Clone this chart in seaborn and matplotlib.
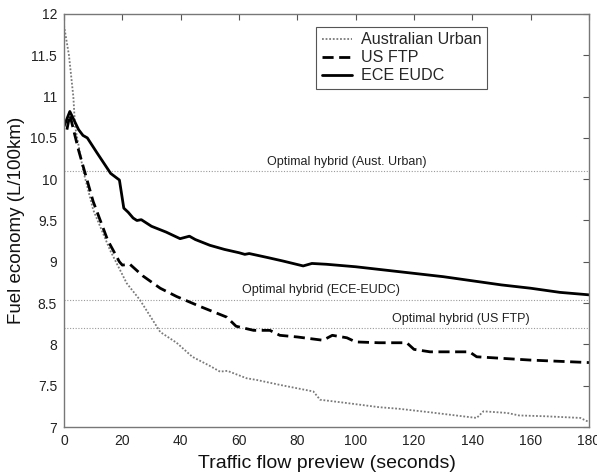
import numpy as np
import pandas as pd
import matplotlib
matplotlib.use("Agg")
import matplotlib.pyplot as plt
import seaborn as sns

# ---- data ----
aus_x = [0, 1.7, 3.2, 3.8, 6.6, 10, 15.8, 21.5, 26, 33, 38.6, 44, 50, 53.5, 56, 62.6, 66,
         74, 85.5, 87.8, 97, 108, 115, 125, 139, 141.5, 143.8, 152, 156, 165, 177, 180]
aus_y = [11.86, 11.5, 11.0, 10.64, 10.1, 9.63, 9.14, 8.74, 8.54, 8.15, 8.02, 7.85, 7.74, 7.67,
         7.68, 7.59, 7.57, 7.51, 7.43, 7.33, 7.29, 7.24, 7.22, 7.18, 7.12, 7.11, 7.19, 7.17,
         7.14, 7.13, 7.11, 7.06]

us_x = [1, 2, 5, 10, 15, 19, 20, 22.6, 27, 33, 38.6, 46.6, 55.8, 59, 65, 70.6, 74, 80, 88.8,
        92, 97, 100, 108, 117.5, 120, 125.5, 139, 141.5, 160, 180]
us_y = [10.6, 10.78, 10.35, 9.73, 9.26, 9.0, 8.96, 8.97, 8.83, 8.68, 8.58, 8.46, 8.33, 8.22,
        8.17, 8.17, 8.11, 8.09, 8.05, 8.11, 8.08, 8.03, 8.02, 8.02, 7.94, 7.91, 7.91, 7.85,
        7.81, 7.78]

ece_x = [0, 2, 5, 6.5, 8, 11.3, 16, 19, 20.5, 22, 23.7, 25, 26.5, 30, 35, 39.8, 43, 45, 50,
         55, 60, 62, 63.5, 70, 75, 82, 85, 90, 100, 110, 120, 130, 140, 150, 160, 170, 180]
ece_y = [10.64, 10.82, 10.6, 10.53, 10.5, 10.32, 10.07, 9.99, 9.65, 9.6, 9.53, 9.5, 9.51,
         9.43, 9.36, 9.28, 9.31, 9.27, 9.2, 9.15, 9.11, 9.09, 9.1, 9.05, 9.01, 8.95, 8.98,
         8.97, 8.94, 8.9, 8.86, 8.82, 8.77, 8.72, 8.68, 8.63, 8.6]

series_names = ["Australian Urban", "US FTP", "ECE EUDC"]

hybrid_values = [10.1, 8.54, 8.2]
hybrid_labels = ["Optimal hybrid (Aust. Urban)", "Optimal hybrid (ECE-EUDC)",
                 "Optimal hybrid (US FTP)"]
hybrid_label_x = [97, 88, 136]

x_ticks = [0, 20, 40, 60, 80, 100, 120, 140, 160, 180]
y_ticks = [7, 7.5, 8, 8.5, 9, 9.5, 10, 10.5, 11, 11.5, 12]
y_tick_labels = ["7", "7.5", "8", "8.5", "9", "9.5", "10", "10.5", "11", "11.5", "12"]

# ---- build frame ----
df = pd.concat([
    pd.DataFrame({"x": aus_x, "y": aus_y, "cycle": series_names[0]}),
    pd.DataFrame({"x": us_x, "y": us_y, "cycle": series_names[1]}),
    pd.DataFrame({"x": ece_x, "y": ece_y, "cycle": series_names[2]}),
])

sns.set_style("white")
plt.rcParams["font.family"] = ["Liberation Sans", "DejaVu Sans"]

fig = plt.figure(figsize=(5.97, 4.73), dpi=100)
ax = fig.add_axes([64 / 597, 1 - 427 / 473, 525 / 597, 413 / 473])

styles = {
    series_names[0]: dict(color="#7a7a7a", linestyle=(0, (1, 1)), linewidth=1.3),
    series_names[1]: dict(color="black", linestyle=(0, (4, 2)), linewidth=2.0),
    series_names[2]: dict(color="black", linestyle="-", linewidth=2.0),
}

for name in series_names:
    sub = df[df["cycle"] == name]
    sns.lineplot(data=sub, x="x", y="y", ax=ax, label=name, sort=False,
                 estimator=None, **styles[name])

for val, lab, lx in zip(hybrid_values, hybrid_labels, hybrid_label_x):
    ax.axhline(val, color="#9a9a9a", linestyle=(0, (1, 1.5)), linewidth=0.8, zorder=1)
    ax.text(lx, val + 0.04, lab, ha="center", va="bottom", fontsize=9, color="#222222")

ax.set_xlim(0, 180)
ax.set_ylim(7, 12)
ax.set_xticks(x_ticks)
ax.set_xticklabels([str(t) for t in x_ticks])
ax.set_yticks(y_ticks)
ax.set_yticklabels(y_tick_labels)
ax.tick_params(direction="in", top=True, right=True, length=4, width=0.8,
               color="#555555", labelsize=10, labelcolor="#222222", pad=5)
for s in ax.spines.values():
    s.set_color("#777777")
    s.set_linewidth(1.0)

ax.set_xlabel("Traffic flow preview (seconds)", fontsize=14, color="#111111", labelpad=5)
ax.set_ylabel("Fuel economy (L/100km)", fontsize=13.5, color="#111111", labelpad=4)

leg = ax.legend(loc="upper left", bbox_to_anchor=(0.48, 0.969), borderaxespad=0,
                fontsize=11.6, frameon=True, fancybox=False, edgecolor="#555555",
                framealpha=1, handlelength=1.9, borderpad=0.35, labelspacing=0.18,
                handletextpad=0.55)
leg.get_frame().set_linewidth(0.8)

fig.savefig("out.png", dpi=100)
